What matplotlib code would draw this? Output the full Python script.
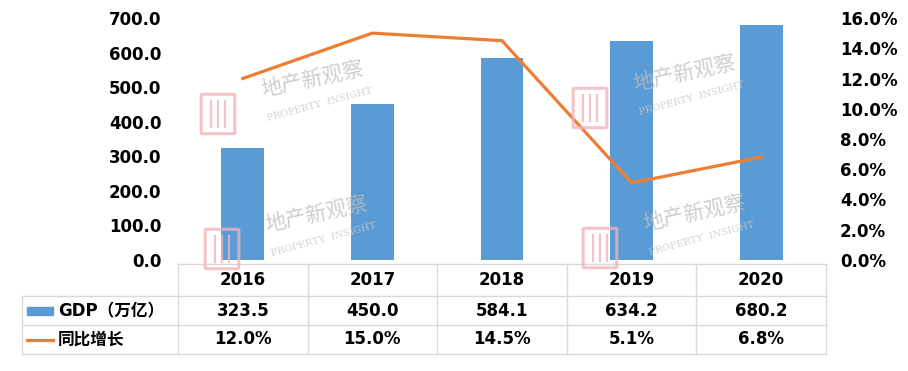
import numpy as np
import matplotlib
matplotlib.use('Agg')
import matplotlib.pyplot as plt
from matplotlib.transforms import blended_transform_factory
from matplotlib.lines import Line2D
from matplotlib.patches import Rectangle, FancyBboxPatch

plt.rcParams['font.family'] = ['DejaVu Sans', 'Noto Sans CJK SC']

# data
years = ['2016', '2017', '2018', '2019', '2020']
gdp = [323.5, 450.0, 584.1, 634.2, 680.2]
growth = [12.0, 15.0, 14.5, 5.1, 6.8]
gdp_label = 'GDP（万亿）'
growth_label = '同比增长'

blue = '#5B9BD5'
orange = '#ED7D31'
grid_c = '#D9D9D9'

W, H = 908, 371
fig = plt.figure(figsize=(W/100, H/100), dpi=100)


def fx(px):
    return px/W


def fy(py):
    return 1 - py/H


# plot area in pixels
x0, x1, ytop, ybot = 178, 826, 18, 260
ax = fig.add_axes([fx(x0), fy(ybot), fx(x1) - fx(x0), fy(ytop) - fy(ybot)])
ax2 = ax.twinx()

x = np.arange(len(years))
ax.bar(x, gdp, width=0.33, color=blue, zorder=2)
ax.set_xlim(-0.5, len(years) - 0.5)
ax.set_ylim(0, 700)
ax.set_yticks(np.arange(0, 701, 100))
ax.set_yticklabels(['%.1f' % v for v in np.arange(0, 701, 100)],
                   fontsize=12, fontweight='bold')
ax.set_xticks([])

ax2.plot(x, growth, color=orange, lw=2.3, zorder=3)
ax2.set_ylim(0, 16)
ax2.set_yticks(np.arange(0, 16.1, 2))
ax2.set_yticklabels(['%.1f%%' % v for v in np.arange(0, 16.1, 2)],
                    fontsize=12, fontweight='bold')

for a in (ax, ax2):
    for s in a.spines.values():
        s.set_visible(False)
    a.tick_params(length=0)
ax.tick_params(axis='y', pad=12)
ax2.tick_params(axis='y', pad=10)

# watermarks (logo centre in pixels)
pink = '#F0B4BA'
for (lx, ly) in [(218, 114), (590, 108), (222, 249), (600, 248)]:
    fig.text(fx(lx + 95), fy(ly - 34), '地产新观察', fontsize=15,
             color='#BDBDBD', alpha=0.75, rotation=12,
             family=['Noto Sans CJK SC'], ha='center', va='center', zorder=5)
    fig.text(fx(lx + 102), fy(ly - 9), 'PROPERTY  INSIGHT', fontsize=7,
             color='#C8C8C8', alpha=0.8, rotation=15, family='serif',
             ha='center', va='center', zorder=5)
    fig.patches.append(FancyBboxPatch((fx(lx - 15), fy(ly + 19)), fx(30),
                                      fy(0) - fy(38),
                                      boxstyle='round,pad=0.002',
                                      transform=fig.transFigure, fill=False,
                                      ec=pink, lw=2.2, alpha=0.8, zorder=5))
    for dx in (-7, 0, 7):
        fig.add_artist(Line2D([fx(lx + dx)] * 2, [fy(ly + 13), fy(ly - 13)],
                              color=pink, lw=1.6, alpha=0.8, zorder=5))

# data table
rows = [264, 296, 325, 354]
left = 22
cols = [x0 + i*(x1 - x0)/len(years) for i in range(len(years) + 1)]
lines = []
# horizontal
lines.append(([fx(x0), fx(x1)], [fy(rows[0])] * 2))
for r in rows[1:]:
    lines.append(([fx(left), fx(x1)], [fy(r)] * 2))
# vertical
lines.append(([fx(left)] * 2, [fy(rows[1]), fy(rows[3])]))
for c in cols:
    lines.append(([fx(c)] * 2, [fy(rows[0]), fy(rows[3])]))
for lx, ly in lines:
    fig.add_artist(Line2D(lx, ly, color=grid_c, lw=1))

trans = blended_transform_factory(ax.transData, fig.transFigure)
ymid = [(rows[k] + rows[k + 1]) / 2 for k in range(3)]
for i, yr in enumerate(years):
    fig.text(i, fy(ymid[0]), yr, transform=trans, ha='center', va='center',
             fontsize=12, fontweight='bold')
    fig.text(i, fy(ymid[1]), '%.1f' % gdp[i], transform=trans, ha='center',
             va='center', fontsize=12, fontweight='bold')
    fig.text(i, fy(ymid[2]), '%.1f%%' % growth[i], transform=trans,
             ha='center', va='center', fontsize=12, fontweight='bold')

# legend keys in table
fig.patches.append(Rectangle((fx(27), fy(315)), fx(26), fy(0) - fy(8),
                             transform=fig.transFigure, color=blue))
fig.add_artist(Line2D([fx(27), fx(53)], [fy(340)] * 2, color=orange, lw=2.3))
fig.text(fx(58), fy(311), gdp_label, ha='left', va='center', fontsize=12,
         fontweight='bold', family=['DejaVu Sans', 'Noto Sans CJK SC'])
fig.text(fx(58), fy(340), growth_label, ha='left', va='center', fontsize=12,
         fontweight='bold', family=['Noto Sans CJK SC'])

fig.savefig('out.png', dpi=100)
